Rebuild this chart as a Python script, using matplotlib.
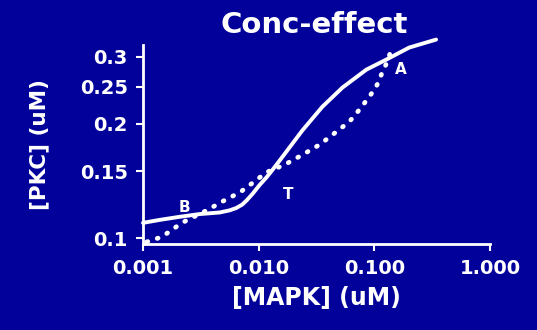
import matplotlib
matplotlib.use("Agg")
import matplotlib.pyplot as plt

# Data
solid_x = [0.001, 0.0014, 0.00208, 0.0031, 0.0046, 0.0056, 0.0064, 0.0072, 0.0079, 0.0089, 0.0102, 0.0117, 0.0132,
           0.0152, 0.0239, 0.0356, 0.053, 0.0853, 0.127, 0.200, 0.342]
solid_y = [0.1097, 0.1117, 0.1138, 0.1157, 0.1168, 0.1183, 0.1200, 0.1225, 0.1258, 0.131, 0.138, 0.1445, 0.1513,
           0.160, 0.192, 0.2216, 0.2487, 0.2772, 0.2946, 0.3168, 0.3325]

dot_x = [0.00108, 0.00146, 0.00178, 0.00217, 0.00363, 0.0048, 0.0069, 0.0084, 0.0117, 0.0168, 0.0239,
         0.0336, 0.047, 0.0609, 0.0743, 0.0905, 0.104, 0.117, 0.1295, 0.140]
dot_y = [0.0978, 0.1008, 0.1052, 0.1097, 0.1187, 0.1246, 0.132, 0.138, 0.149, 0.156, 0.1656,
         0.176, 0.1904, 0.2024, 0.2176, 0.2354, 0.2502, 0.2724, 0.291, 0.313]

point_labels = ["B", "T", "A"]
point_x = [0.0023, 0.018, 0.17]
point_y = [0.1205, 0.130, 0.278]

xticks = [0.001, 0.01, 0.1, 1.0]
xticklabels = ["0.001", "0.010", "0.100", "1.000"]
yticks = [0.1, 0.15, 0.2, 0.25, 0.3]
yticklabels = ["0.1", "0.15", "0.2", "0.25", "0.3"]

bg = "#02029b"
plt.rcParams['font.family'] = ['DejaVu Sans']
plt.rcParams['font.weight'] = 'bold'

fig = plt.figure(figsize=(5.37, 3.30), dpi=100, facecolor=bg)
ax = fig.add_axes([0.2663, 0.261, 0.6462, 0.603], facecolor=bg)

ax.set_xscale('log')
ax.set_yscale('log')
ax.set_xlim(0.001, 1.0)
ax.set_ylim(0.0966, 0.322)

ax.plot(solid_x, solid_y, color='white', lw=2.8, solid_capstyle='round', solid_joinstyle='round', clip_on=False)
ax.plot(dot_x, dot_y, color='white', lw=3.4, linestyle=(0, (0.2, 2.1)), dash_capstyle='round', clip_on=False)

for lab, px, py in zip(point_labels, point_x, point_y):
    ax.text(px, py, lab, color='white', fontsize=11, fontweight='bold', ha='center', va='center')

for s in ['top', 'right']:
    ax.spines[s].set_visible(False)
for s in ['left', 'bottom']:
    ax.spines[s].set_color('white')
    ax.spines[s].set_linewidth(2)

ax.set_xticks(xticks)
ax.set_xticklabels(xticklabels)
ax.set_yticks(yticks)
ax.set_yticklabels(yticklabels)
ax.minorticks_off()
ax.tick_params(axis='both', colors='white', width=1.5, length=5, labelsize=14, pad=6)
for t in ax.get_xticklabels() + ax.get_yticklabels():
    t.set_fontweight('bold')

ax.set_xlabel("[MAPK] (uM)", color='white', fontsize=17, fontweight='bold', labelpad=6)
ax.set_ylabel("[PKC] (uM)", color='white', fontsize=15.5, fontweight='bold', labelpad=22)
fig.text(0.585, 0.925, "Conc-effect", color='white', fontsize=21, fontweight='bold', ha='center', va='center')

fig.savefig("out.png", dpi=100, facecolor=bg)
